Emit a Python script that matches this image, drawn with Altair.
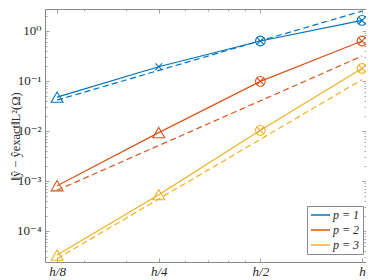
import json
import altair as alt
import pandas as pd

# ---- data ----
x_ticks = [0.25, 0.5, 1.0, 2.0]            # h/8, h/4, h/2, h  (h = 2)
x_tick_labels = ["h/8", "h/4", "h/2", "h"]
x_minor = [0.3, 0.4, 0.6, 0.7, 0.8, 0.9]

series = ["p = 1", "p = 2", "p = 3"]
colors = ["#0072BD", "#D95319", "#EDB120"]

err_p1 = [0.047, 0.19, 0.62, 1.6]
err_p2 = [8.0e-4, 9.2e-3, 0.097, 0.62]
err_p3 = [3.3e-5, 5.3e-4, 0.0102, 0.175]

markers_p1 = ["tri", "x", "ox", "ox"]
markers_p2 = ["tri", "tri", "ox", "ox"]
markers_p3 = ["tri", "tri", "ox", "ox"]

ref_x = [0.25, 2.0]
ref_p1 = [0.041, 2.45]
ref_p2 = [6.5e-4, 0.31]
ref_p3 = [2.8e-5, 0.105]

y_ticks = [1e-4, 1e-3, 1e-2, 1e-1, 1.0]
y_tick_labels = ["10⁻⁴", "10⁻³", "10⁻²", "10⁻¹", "10⁰"]
y_domain = [2.4e-5, 2.7]
x_domain = [0.2302, 2.055]
y_minor = [m * 10.0 ** k for k in range(-5, 1) for m in range(2, 10)]
y_minor = [v for v in y_minor if y_domain[0] <= v <= y_domain[1]]

# ---- tables ----
rows = []
for name, errs, marks in zip(series, [err_p1, err_p2, err_p3],
                             [markers_p1, markers_p2, markers_p3]):
    for xv, yv, mk in zip(x_ticks, errs, marks):
        rows.append({"x": xv, "y": yv, "p": name, "marker": mk})
df = pd.DataFrame(rows)

ref_rows = []
for name, refs in zip(series, [ref_p1, ref_p2, ref_p3]):
    for xv, yv in zip(ref_x, refs):
        ref_rows.append({"x": xv, "y": yv, "p": name})
df_ref = pd.DataFrame(ref_rows)

FONT = "Liberation Serif, Times New Roman, Tinos, DejaVu Serif, serif"
TICK = "#8a8a8a"
xscale = alt.Scale(type="log", domain=x_domain, nice=False)
yscale = alt.Scale(type="log", domain=y_domain, nice=False)
cscale = alt.Scale(domain=series, range=colors)

common = dict(domain=False, grid=False, tickColor=TICK, tickWidth=0.8, title=None)

x_lab = json.dumps(x_tick_labels, ensure_ascii=False)
y_lab = json.dumps(y_tick_labels, ensure_ascii=False)

ax_x_bottom = alt.Axis(orient="bottom", values=x_ticks, offset=-4, tickSize=4,
                       labelPadding=3, labelFont=FONT, labelFontSize=13,
                       labelFontStyle="italic", labelColor="#262626",
                       labelFlush=False, labelOverlap=False,
                       labelExpr=f"{x_lab}[round(log(datum.value)/LN2) + 2]", **common)
ax_x_bottom_minor = alt.Axis(orient="bottom", values=x_minor, offset=-2, tickSize=2,
                             labels=False, **common)
ax_x_top = alt.Axis(orient="top", values=x_ticks, offset=-4, tickSize=4,
                    labels=False, **common)
ax_x_top_minor = alt.Axis(orient="top", values=x_minor, offset=-2, tickSize=2,
                          labels=False, **common)

common_y = dict(common)
common_y.pop("title")
ax_y_left = alt.Axis(orient="left", values=y_ticks, offset=-4, tickSize=4,
                     labelPadding=4, labelFont=FONT, labelFontSize=13,
                     labelColor="#262626", labelFlush=False, labelOverlap=False,
                     labelExpr=f"{y_lab}[round(log(datum.value)/LN10) + 4]",
                     title="‖ŷ − ŷexact‖L²(Ω)", titleFont=FONT, titleFontSize=12.5,
                     titleFontWeight="normal", titleColor="#262626",
                     titleX=-27, titleY=127, titleAlign="center", **common_y)
ax_y_left_minor = alt.Axis(orient="left", values=y_minor, offset=-2, tickSize=2,
                           labels=False, title=None, **common_y)
ax_y_right = alt.Axis(orient="right", values=y_ticks, offset=-4, tickSize=4,
                      labels=False, title=None, **common_y)
ax_y_right_minor = alt.Axis(orient="right", values=y_minor, offset=-2, tickSize=2,
                            labels=False, title=None, **common_y)

legend = alt.Legend(orient="none", legendX=262, legendY=197, title=None,
                    symbolType="stroke", symbolSize=361, symbolStrokeWidth=1.5,
                    clipHeight=12,
                    labelFont=FONT, labelFontSize=12, labelFontStyle="italic",
                    labelColor="#262626", padding=3, strokeColor="#8a8a8a",
                    fillColor="white", rowPadding=3, labelOffset=2, cornerRadius=0)

solid = alt.Chart(df).mark_line(strokeWidth=1.2).encode(
    x=alt.X("x:Q", scale=xscale, axis=ax_x_bottom),
    y=alt.Y("y:Q", scale=yscale, axis=ax_y_left),
    color=alt.Color("p:N", scale=cscale, legend=legend),
)

dashed = alt.Chart(df_ref).mark_line(strokeWidth=1.2, strokeDash=[6, 3.5]).encode(
    x=alt.X("x:Q", scale=xscale, axis=ax_x_bottom_minor),
    y=alt.Y("y:Q", scale=yscale, axis=ax_y_left_minor),
    color=alt.Color("p:N", scale=cscale, legend=None),
)

tri = alt.Chart(df).transform_filter(alt.datum.marker == "tri").mark_point(
    shape="triangle-up", size=140, filled=False, strokeWidth=1.1, opacity=1
).encode(
    x=alt.X("x:Q", scale=xscale, axis=ax_x_top),
    y=alt.Y("y:Q", scale=yscale, axis=ax_y_right),
    color=alt.Color("p:N", scale=cscale, legend=None),
)

circ = alt.Chart(df).transform_filter(alt.datum.marker == "ox").mark_point(
    shape="circle", size=95, filled=False, strokeWidth=1.1, opacity=1
).encode(
    x=alt.X("x:Q", scale=xscale, axis=ax_x_top_minor),
    y=alt.Y("y:Q", scale=yscale, axis=ax_y_right_minor),
    color=alt.Color("p:N", scale=cscale, legend=None),
)

cross = alt.Chart(df).transform_filter(
    (alt.datum.marker == "ox") | (alt.datum.marker == "x")
).mark_point(
    shape="M-1,-1L1,1M-1,1L1,-1", size=45, filled=False, strokeWidth=1.1, opacity=1
).encode(
    x=alt.X("x:Q", scale=xscale, axis=None),
    y=alt.Y("y:Q", scale=yscale, axis=None),
    color=alt.Color("p:N", scale=cscale, legend=None),
)

chart = alt.layer(solid, dashed, tri, circ, cross).resolve_axis(
    x="independent", y="independent"
).properties(
    width=321, height=253,
    autosize=alt.AutoSizeParams(type="none"),
    padding={"left": 37, "top": 1, "right": 0, "bottom": 18},
).configure_view(stroke="#8a8a8a", strokeWidth=1)

chart.save("out.html", embed_options={"renderer": "svg", "actions": False})
